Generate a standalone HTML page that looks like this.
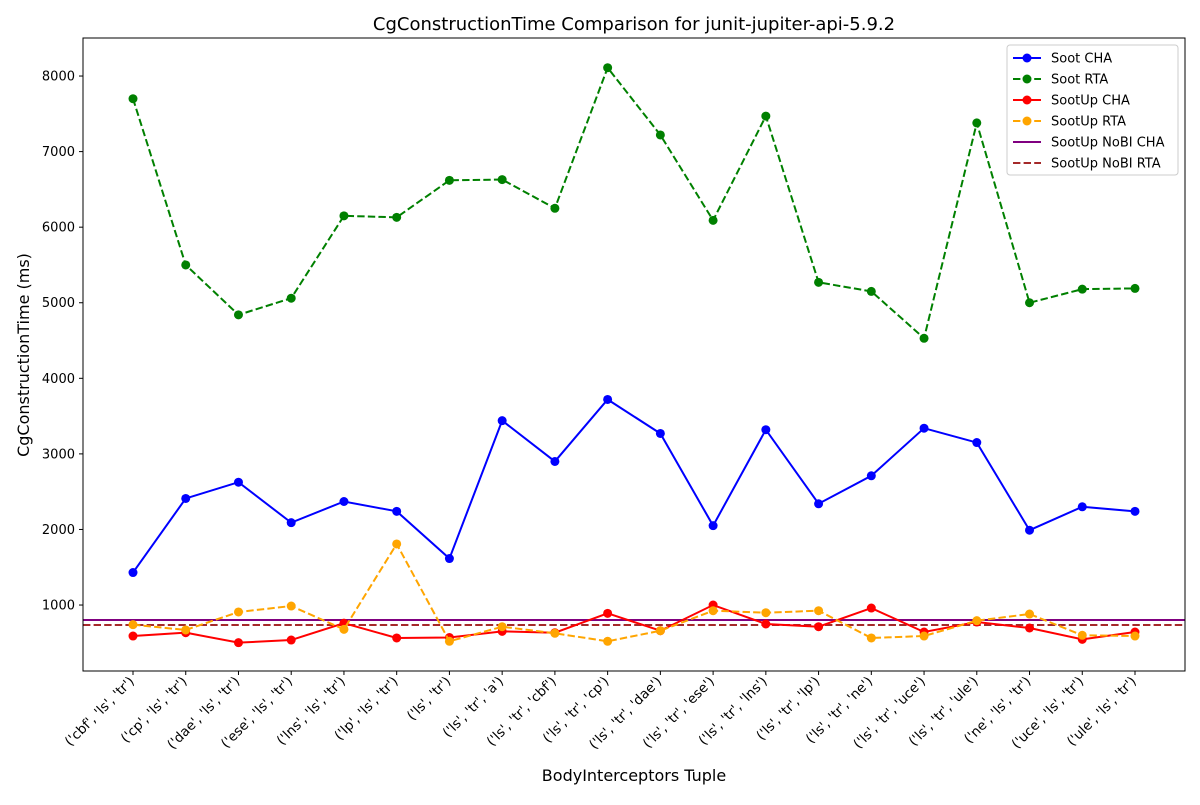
<!DOCTYPE html>
<html><head><meta charset="utf-8"><style>
body{margin:0;background:#fff;font-family:"Liberation Sans","DejaVu Sans",sans-serif}
</style></head><body>
<svg id="chart" width="1200" height="800" xmlns="http://www.w3.org/2000/svg" font-family="DejaVu Sans, Liberation Sans, sans-serif">
<rect width="1200" height="800" fill="#fff"/>
<text x="634" y="30" text-anchor="middle" font-size="18">CgConstructionTime Comparison for junit-jupiter-api-5.9.2</text>
<text x="634" y="781" text-anchor="middle" font-size="16">BodyInterceptors Tuple</text>
<text transform="translate(29,355) rotate(-90)" text-anchor="middle" font-size="16">CgConstructionTime (ms)</text>
<g id="axes"></g>
<g id="plot"></g>
<rect x="83" y="38" width="1102" height="633" fill="none" stroke="#000" stroke-width="1"/>
<g id="legend"></g>
</svg>
<script>
const categories=["('cbf', 'ls', 'tr')","('cp', 'ls', 'tr')","('dae', 'ls', 'tr')","('ese', 'ls', 'tr')","('lns', 'ls', 'tr')","('lp', 'ls', 'tr')","('ls', 'tr')","('ls', 'tr', 'a')","('ls', 'tr', 'cbf')","('ls', 'tr', 'cp')","('ls', 'tr', 'dae')","('ls', 'tr', 'ese')","('ls', 'tr', 'lns')","('ls', 'tr', 'lp')","('ls', 'tr', 'ne')","('ls', 'tr', 'uce')","('ls', 'tr', 'ule')","('ne', 'ls', 'tr')","('uce', 'ls', 'tr')","('ule', 'ls', 'tr')"];
const sootCHA=[1430,2410,2625,2090,2370,2240,1615,3440,2900,3720,3270,2050,3320,2340,2710,3340,3150,1990,2300,2240];
const sootRTA=[7700,5500,4840,5060,6150,6130,6620,6630,6250,8110,7220,6090,7470,5270,5150,4530,7380,5000,5180,5190];
const sootUpCHA=[590,634,502,537,760,564,570,652,634,890,660,1000,749,713,960,643,775,696,546,643];
const sootUpRTA=[740,670,908,987,678,1808,520,713,626,520,660,925,898,925,564,590,793,881,600,590];
const nobiCHA=802;
const nobiRTA=736;
const yTicks=[1000,2000,3000,4000,5000,6000,7000,8000];

const NS="http://www.w3.org/2000/svg";
function mk(t,a,p){const e=document.createElementNS(NS,t);for(const k in a)e.setAttribute(k,a[k]);p.appendChild(e);return e;}
const xScale=i=>133+i*(1135-133)/(categories.length-1);
const yScale=v=>680.6-v*0.075571;
const axes=document.getElementById('axes'),plot=document.getElementById('plot'),leg=document.getElementById('legend');
yTicks.forEach(v=>{const y=yScale(v);
 const l=mk('line',{x1:79,x2:83,y1:y,y2:y,stroke:'#000'},axes);
 
 
 const t=mk('text',{x:75,y:y+4.5,'text-anchor':'end','font-size':13},axes);t.textContent=v;
 
 
});
categories.forEach((c,i)=>{const x=xScale(i);
 const l=mk('line',{x1:x,x2:x,y1:671,y2:675,stroke:'#000'},axes);
 
 
 const t=mk('text',{x:0,y:0,'text-anchor':'end','font-size':13.4,transform:`translate(${x+2},${682}) rotate(-45)`},axes);t.textContent=c;
 
 
});
const series=[
 {name:'Soot CHA',data:sootCHA,color:'#0000ff',dash:''},
 {name:'Soot RTA',data:sootRTA,color:'#008000',dash:'7.4,3.2'},
 {name:'SootUp CHA',data:sootUpCHA,color:'#ff0000',dash:''},
 {name:'SootUp RTA',data:sootUpRTA,color:'#ffa500',dash:'7.4,3.2'}];
[[nobiCHA,'#800080','','sootup-nobi-cha-line'],[nobiRTA,'#a52a2a','7.4,3.2','sootup-nobi-rta-line']].forEach(h=>{
 const l=mk('line',{x1:83,x2:1185,y1:yScale(h[0]),y2:yScale(h[0]),stroke:h[1],'stroke-width':2,'stroke-dasharray':h[2]},plot);
 
 
});
series.forEach(s=>{
 const p=mk('polyline',{points:s.data.map((v,i)=>xScale(i)+','+yScale(v)).join(' '),fill:'none',stroke:s.color,'stroke-width':2,'stroke-dasharray':s.dash},plot);
 
 
 s.data.forEach((v,i)=>{const c=mk('circle',{cx:xScale(i),cy:yScale(v),r:4.5,fill:s.color},plot);
  
  });
});
const lr=mk('rect',{x:1007,y:45,width:171,height:130,rx:3,fill:'#fff','fill-opacity':0.8,stroke:'#ccc'},leg);


const entries=series.map(s=>[s.name,s.color,s.dash,true]).concat([['SootUp NoBI CHA','#800080','',false],['SootUp NoBI RTA','#a52a2a','7.4,3.2',false]]);
entries.forEach((e,i)=>{const y=58+i*21;
 const g=mk('g',{},leg);
 
 
 mk('line',{x1:1013,x2:1041,y1:y,y2:y,stroke:e[1],'stroke-width':2,'stroke-dasharray':e[2]},g);
 if(e[3])mk('circle',{cx:1027,cy:y,r:4.5,fill:e[1]},g);
 const t=mk('text',{x:1051,y:y+4.5,'font-size':13},g);t.textContent=e[0];
});
</script>
</body></html>
